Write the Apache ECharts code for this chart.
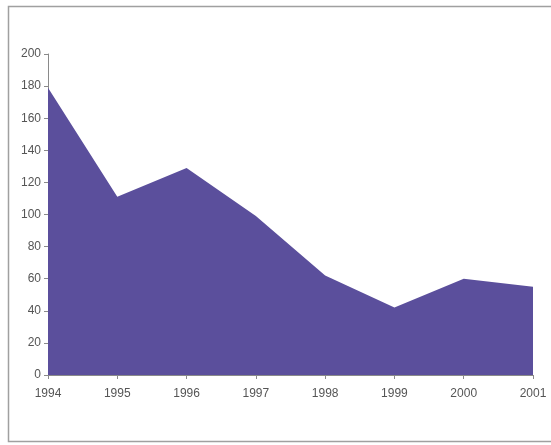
<!DOCTYPE html>
<html>
<head>
<meta charset="utf-8">
<script src="https://cdn.jsdelivr.net/npm/echarts@6/dist/echarts.min.js"></script>
<style>
html,body{margin:0;padding:0;background:#fff;}
#c{width:551px;height:445px;}
</style>
</head>
<body>
<div id="c"></div>
<script>
const years = ['1994','1995','1996','1997','1998','1999','2000','2001'];
const values = [179, 111, 129, 99, 62, 42, 60, 55];

const chart = echarts.init(document.getElementById('c'), null, {renderer:'canvas'});
chart.setOption({
  animation: false,
  backgroundColor: '#ffffff',
  graphic: [{
    type: 'rect',
    shape: {x: 8.5, y: 6.5, width: 560, height: 435},
    style: {fill: 'none', stroke: '#a0a0a0', lineWidth: 1.5},
    z: -1
  }],
  grid: {left: 48, top: 54, right: 18, bottom: 70, containLabel: false},
  xAxis: {
    type: 'category',
    data: years,
    boundaryGap: false,
    axisLine: {lineStyle: {color: '#8a8a8a', width: 1}},
    axisTick: {show: true, alignWithLabel: true, length: 4, lineStyle: {color: '#8a8a8a'}},
    axisLabel: {color: '#555', fontFamily: 'Liberation Sans, Arial', fontSize: 12, margin: 13},
    splitLine: {show: false}
  },
  yAxis: {
    type: 'value',
    min: 0, max: 200, interval: 20,
    axisLine: {show: true, lineStyle: {color: '#8a8a8a', width: 1}},
    axisTick: {show: true, length: 4, lineStyle: {color: '#8a8a8a'}},
    axisLabel: {color: '#555', fontFamily: 'Liberation Sans, Arial', fontSize: 12, margin: 7},
    splitLine: {show: false}
  },
  series: [{
    type: 'line',
    data: values,
    symbol: 'none',
    lineStyle: {width: 0, color: '#5b4f9c'},
    areaStyle: {color: '#5b4f9c', opacity: 1}
  }]
});
</script>
</body>
</html>
